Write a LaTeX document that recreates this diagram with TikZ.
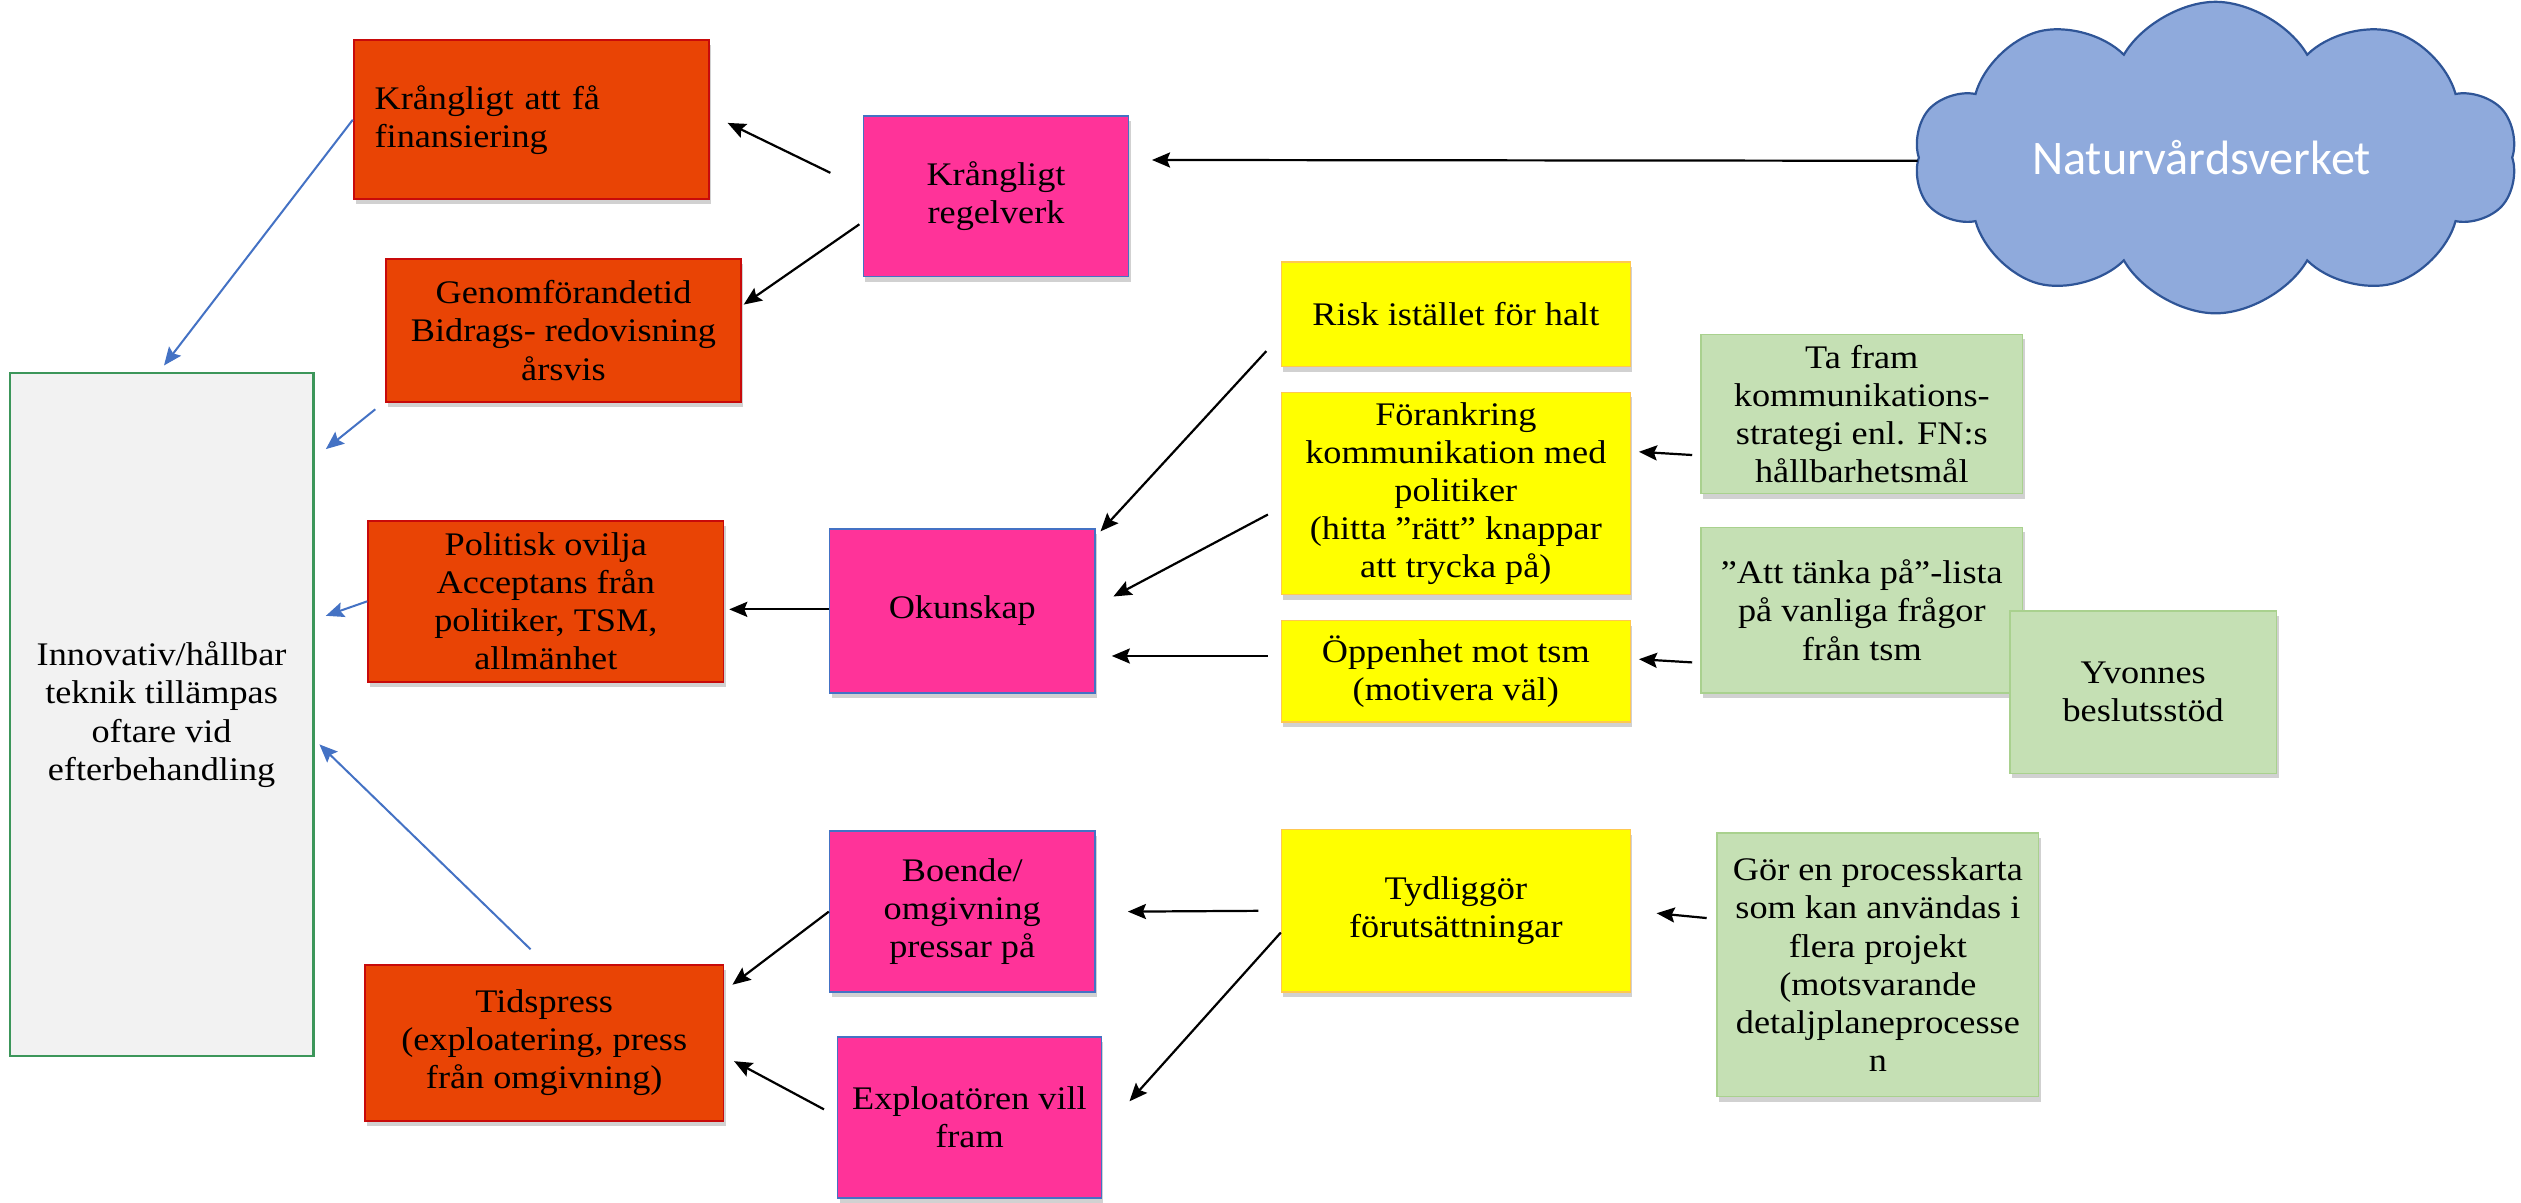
\documentclass[tikz,border=0pt]{standalone}
\usepackage{fontspec}
\setmainfont{Liberation Serif}[FakeStretch=1.1]
\newfontfamily\cloudfont{Carlito}
\usetikzlibrary{arrows.meta,shapes.symbols,shadows,calc}
\definecolor{orfill}{RGB}{233,68,5}
\definecolor{orline}{RGB}{200,10,10}
\definecolor{pkfill}{RGB}{255,51,153}
\definecolor{pkline}{RGB}{68,114,196}
\definecolor{ylfill}{RGB}{255,255,0}
\definecolor{ylline}{RGB}{255,200,80}
\definecolor{grfill}{RGB}{197,224,180}
\definecolor{grline}{RGB}{169,209,142}
\definecolor{gyfill}{RGB}{242,242,242}
\definecolor{gyline}{RGB}{60,150,90}
\definecolor{cdfill}{RGB}{143,170,220}
\definecolor{cdline}{RGB}{47,85,151}
\definecolor{bluearr}{RGB}{68,114,196}
\begin{document}
\begin{tikzpicture}[x=0.8pt,y=-0.8pt,
  font=\fontsize{16.4pt}{19pt}\selectfont,
  sz/.style 2 args={minimum width=#1*0.8pt, minimum height=#2*0.8pt},
  base/.style={rectangle, inner sep=0pt, align=center,
    drop shadow={shadow xshift=1pt, shadow yshift=-2.5pt, fill=black, opacity=0.18}},
  orbox/.style={base, fill=orfill, draw=orline, line width=0.9pt},
  pkbox/.style={base, fill=pkfill, draw=pkline, line width=0.8pt},
  ylbox/.style={base, fill=ylfill, draw=ylline, line width=0.6pt},
  grbox/.style={base, fill=grfill, draw=grline, line width=0.8pt},
  gybox/.style={rectangle, inner sep=0pt, align=center, fill=gyfill, draw=gyline, line width=1.1pt},
  arr/.style={-{Stealth[length=9pt,width=7.5pt,inset=1.5pt]}, line width=1.1pt, black},
  barr/.style={-{Stealth[length=9pt,width=7.5pt,inset=1.5pt]}, line width=1pt, bluearr}]
\useasboundingbox (0,0) rectangle (1568,748);

% nodes
\node[orbox, sz={221}{99}, text width=156pt, align=left] (fin) at (330.5,74.5) {Krångligt att få\\finansiering};
\node[pkbox, sz={165}{100}] (regel) at (619.5,122) {Krångligt\\regelverk};
\node[orbox, sz={221}{89}] (genom) at (350.5,205.5) {Genomförandetid\\Bidrags- redovisning\\årsvis};
\node[gybox, sz={189}{425}] (innov) at (100.5,444.5) {Innovativ/hållbar\\teknik tillämpas\\oftare vid\\efterbehandling};
\node[orbox, sz={221}{100}] (polit) at (339.5,374) {Politisk ovilja\\Acceptans från\\politiker, TSM,\\allmänhet};
\node[pkbox, sz={165}{102}] (okun) at (598.5,380) {Okunskap};
\node[ylbox, sz={217}{65}] (risk) at (905.5,195.5) {Risk istället för halt};
\node[ylbox, sz={217}{126}] (foran) at (905.5,307) {Förankring\\kommunikation med\\politiker\\(hitta ”rätt” knappar\\att trycka på)};
\node[ylbox, sz={217}{63}] (oppen) at (905.5,417.5) {Öppenhet mot tsm\\(motivera väl)};
\node[grbox, sz={200}{99}] (tafram) at (1158,257.5) {Ta fram\\kommunikations-\\strategi enl. FN:s\\hållbarhetsmål};
\node[grbox, sz={200}{103}] (attt) at (1158,379.5) {”Att tänka på”-lista\\på vanliga frågor\\från tsm};
\node[grbox, sz={166}{101}] (yvon) at (1333,430.5) {Yvonnes\\beslutsstöd};
\node[cloud, cloud puffs=10, cloud puff arc=120, cloud ignores aspect,
  minimum width=300pt, minimum height=155pt, inner sep=0pt,
  fill=cdfill, draw=cdline, line width=1.1pt,
  font=\cloudfont\fontsize{24pt}{28pt}\selectfont, text=white] (nv) at (1378,98) {Naturvårdsverket\hspace*{14pt}};
\node[pkbox, sz={165}{100}] (boende) at (598.5,567) {Boende/\\omgivning\\pressar på};
\node[ylbox, sz={217}{101}] (tydl) at (905.5,566.5) {Tydliggör\\förutsättningar};
\node[grbox, sz={200}{164}] (gor) at (1168,600) {Gör en processkarta\\som kan användas i\\flera projekt\\(motsvarande\\detaljplaneprocesse\\n};
\node[orbox, sz={223}{97}] (tids) at (338.5,648.5) {Tidspress\\(exploatering, press\\från omgivning)};
\node[pkbox, sz={164}{100}] (expl) at (603,695) {Exploatören vill\\fram};

% black connectors
\draw[arr] ($(regel.north west)+(-20,36)$) -- ($(fin.north east)+(11,52)$);
\draw[arr] ($(regel.north west)+(-2,68)$) -- ($(genom.north east)+(1,29)$);
\draw[arr] ($(nv.west)+(0,2)$) -- ($(regel.north east)+(14,28)$);
\draw[arr] ($(okun.west)+(0,-1)$) -- ($(polit.east)+(3,5)$);
\draw[arr] ($(risk.south west)+(-9,-10)$) -- ($(okun.north east)+(3,2)$);
\draw[arr] ($(foran.west)+(-8,13)$) -- ($(okun.east)+(11,-9)$);
\draw[arr] ($(oppen.west)+(-8,-9.5)$) -- ($(okun.east)+(10,28)$);
\draw[arr] ($(tafram.west)+(-5,25.5)$) -- ($(foran.east)+(5,-26)$);
\draw[arr] ($(attt.west)+(-5,32.5)$) -- ($(oppen.east)+(5,-7.5)$);
\draw[arr] (boende.west) -- ($(tids.north east)+(5,13)$);
\draw[arr] ($(expl.west)+(-8,-5)$) -- ($(tids.east)+(6,11.5)$);
\draw[arr] ($(tydl.west)+(-14,0)$) -- ($(boende.east)+(20,0)$);
\draw[arr] ($(tydl.west)+(0,13.5)$) -- ($(expl.east)+(17,-10)$);
\draw[arr] ($(gor.west)+(-6,-29)$) -- ($(tydl.east)+(16,1.5)$);

% blue connectors
\draw[barr] (fin.west) -- ($(innov.north)+(1.5,-4)$);
\draw[barr] ($(genom.south west)+(-6,4)$) -- ($(innov.north east)+(7,48)$);
\draw[barr] (polit.west) -- ($(innov.east)+(7,-61.5)$);
\draw[barr] ($(tids.north)+(-8.5,-9)$) -- ($(innov.east)+(3,18.5)$);
\end{tikzpicture}
\end{document}
